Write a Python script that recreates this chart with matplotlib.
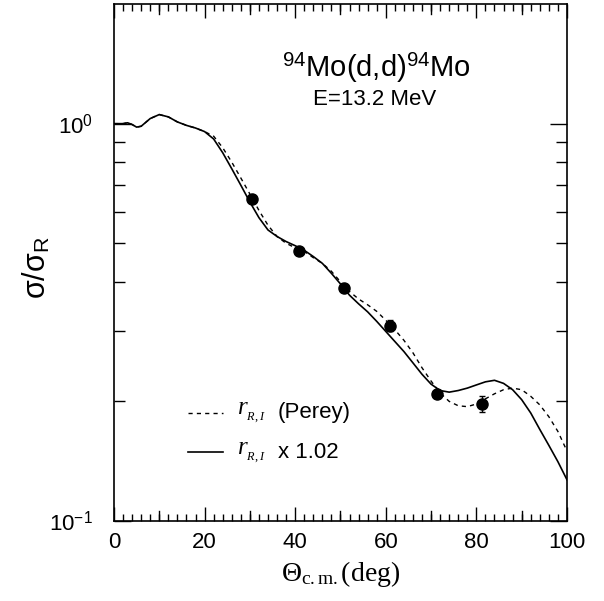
import matplotlib
matplotlib.use("Agg")
import matplotlib.pyplot as plt
from matplotlib.ticker import FixedLocator, MultipleLocator, NullFormatter

plt.rcParams['font.family'] = ['Liberation Sans', 'DejaVu Sans']
plt.rcParams['mathtext.fontset'] = 'custom'
plt.rcParams['mathtext.rm'] = 'Liberation Serif'
plt.rcParams['mathtext.it'] = 'Liberation Serif:italic'
plt.rcParams['mathtext.sf'] = 'Liberation Sans'

#-------- datos experimentales --------
theta_exp = [30.5, 40.8, 50.8, 61.0, 71.2, 81.3]
sig_exp = [0.647, 0.477, 0.385, 0.310, 0.209, 0.197]
err_exp = [0.010, 0.008, 0.006, 0.010, 0.005, 0.009]

#-------- curva r_R,I x 1.02 (continua) --------
theta_a = [0, 2, 3, 4, 5, 6, 8, 10, 12, 14, 16, 18, 20, 22, 24, 26, 28, 30,
           32, 34, 36, 38, 40, 42, 44, 46, 48, 50, 52, 54, 56, 58, 60, 62,
           64, 66, 68, 70, 72, 74, 76, 78, 80, 82, 84, 86, 88, 90, 92, 94,
           96, 98, 100]
sig_a = [1.0, 1.0, 1.005, 0.995, 0.98, 0.985, 1.03, 1.054, 1.04, 1.01, 0.99,
         0.975, 0.955, 0.915, 0.845, 0.77, 0.70, 0.635, 0.58, 0.54, 0.52,
         0.505, 0.493, 0.48, 0.463, 0.445, 0.42, 0.395, 0.37, 0.352, 0.336,
         0.318, 0.300, 0.283, 0.267, 0.25, 0.234, 0.221, 0.213, 0.211, 0.213,
         0.216, 0.220, 0.224, 0.226, 0.222, 0.214, 0.202, 0.187, 0.170,
         0.155, 0.141, 0.127]

#-------- curva r_R,I (Perey) (discontinua) --------
theta_b = [0, 2, 3, 4, 5, 6, 8, 10, 12, 14, 16, 18, 20, 22, 24, 26, 28, 30,
           32, 34, 36, 38, 40, 42, 44, 46, 48, 50, 52, 54, 56, 58, 60, 62,
           64, 66, 68, 70, 72, 74, 76, 78, 80, 82, 84, 86, 88, 90, 92, 94,
           96, 98, 100]
sig_b = [1.0, 1.0, 1.005, 0.995, 0.98, 0.985, 1.03, 1.054, 1.04, 1.01, 0.99,
         0.975, 0.955, 0.93, 0.87, 0.80, 0.73, 0.665, 0.605, 0.555, 0.52,
         0.50, 0.487, 0.477, 0.46, 0.445, 0.425, 0.40, 0.378, 0.362, 0.350,
         0.337, 0.32, 0.303, 0.285, 0.265, 0.243, 0.225, 0.21, 0.200, 0.195,
         0.194, 0.197, 0.203, 0.209, 0.214, 0.216, 0.214, 0.206, 0.196,
         0.183, 0.168, 0.150]

fig = plt.figure(figsize=(6.04, 6.01), dpi=100)
ax = fig.add_axes([0.1887, 0.1331, 0.75, 0.8602])

ax.plot(theta_b, sig_b, color='black', lw=1.0, ls=(0, (3, 3)))
ax.plot(theta_a, sig_a, color='black', lw=1.2)
ax.errorbar(theta_exp, sig_exp, yerr=err_exp, fmt='o', color='black',
            ms=8, capsize=2, elinewidth=1)

ax.set_yscale('log')
ax.set_xlim(0, 100)
ax.set_ylim(0.1, 2.0)

ax.xaxis.set_major_locator(MultipleLocator(20))
ax.xaxis.set_minor_locator(MultipleLocator(2))
ax.yaxis.set_major_locator(FixedLocator([0.1, 1.0]))
ax.yaxis.set_minor_locator(FixedLocator([0.2, 0.3, 0.4, 0.5, 0.6, 0.7, 0.8, 0.9]))
ax.yaxis.set_minor_formatter(NullFormatter())
ax.set_yticklabels([r'10$^{\mathsf{-1}}$', r'10$^{\mathsf{0}}$'])
ax.tick_params(which='both', direction='in', top=True, right=True,
               labelsize=16, width=1)
ax.tick_params(axis='y', which='major', length=12, pad=15)
ax.tick_params(axis='y', which='minor', length=8)
ax.tick_params(axis='x', which='minor', length=5)
ax.tick_params(axis='x', which='major', length=10, pad=8)
# ticks largos cada 10 grados
for t in range(10, 100, 20):
    ax.plot([t, t], [0.1, 0.1 * 1.06], color='black', lw=1)
    ax.plot([t, t], [2.0 / 1.06, 2.0], color='black', lw=1)
for s in ax.spines.values():
    s.set_linewidth(1.2)

ax.set_xlabel(r'$\Theta_{\mathrm{c.m.}}(\mathrm{deg})$', fontsize=20, labelpad=4)
ax.set_ylabel(r'σ/σ$_{\mathsf{R}}$', fontsize=22)
ax.yaxis.set_label_coords(-0.135, 0.49)

ax.text(0.58, 0.876, r'$^{\mathsf{94}}$Mo(d,d)$^{\mathsf{94}}$Mo',
        transform=ax.transAxes, ha='center', va='center', fontsize=21)
ax.text(0.575, 0.815, 'E=13.2 MeV', transform=ax.transAxes,
        ha='center', va='center', fontsize=16)

# leyenda manual
ax.plot([16.3, 24.1], [0.187, 0.187], color='black', lw=1.0, ls=(0, (3, 3)))
ax.plot([16.3, 24.1], [0.149, 0.149], color='black', lw=1.2)
ax.text(27.2, 0.187, r'$r_{_{R,I}}$', fontsize=18, va='center')
ax.text(36.2, 0.187, '(Perey)', fontsize=16, va='center')
ax.text(27.2, 0.149, r'$r_{_{R,I}}$', fontsize=18, va='center')
ax.text(36.2, 0.149, 'x 1.02', fontsize=16, va='center')

fig.savefig('out.png', dpi=100)
